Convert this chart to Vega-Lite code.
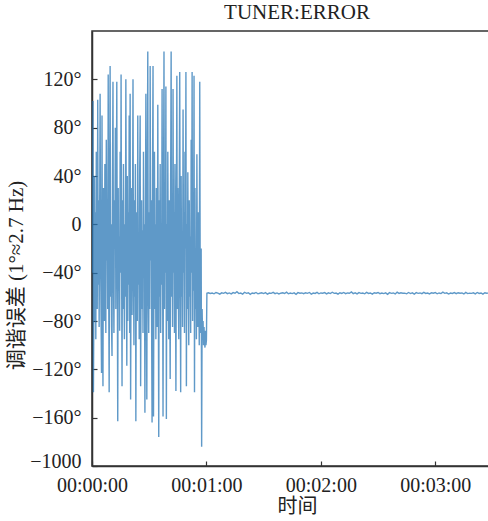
{
  "$schema": "https://vega.github.io/schema/vega-lite/v6.json",
  "autosize": {"type": "none"},
  "padding": {"left": 92, "top": 31, "right": 0, "bottom": 55},
  "width": 410,
  "height": 435,
  "background": "white",
  "config": {
    "view": {"stroke": "#333333", "strokeWidth": 1.5},
    "font": "Liberation Serif",
    "title": {"font": "Liberation Serif", "fontSize": 21, "fontWeight": "normal", "color": "#222222", "offset": 8},
    "axis": {
      "labelFont": "Liberation Serif",
      "labelFontSize": 20,
      "labelColor": "#222222",
      "titleFont": "Liberation Serif, Noto Sans CJK SC",
      "titleFontSize": 21,
      "titleFontWeight": "normal",
      "titleColor": "#222222",
      "domainColor": "#333333",
      "domainWidth": 1.5,
      "tickColor": "#333333",
      "tickSize": -5,
      "tickWidth": 1.2,
      "grid": false
    }
  },
  "title": {"text": "TUNER:ERROR"},
  "data": {"values": [
    {"t":0,"v":-40},{"t":0.25,"v":20},{"t":0.5,"v":102},{"t":0.75,"v":-139},{"t":1,"v":-60},{"t":1.25,"v":40},{"t":1.5,"v":-80},{"t":1.75,"v":10},{"t":2,"v":-95},{"t":2.25,"v":60},
    {"t":2.5,"v":-30},{"t":2.75,"v":-70},{"t":3,"v":103},{"t":3.25,"v":-50},{"t":3.5,"v":20},{"t":3.75,"v":-85},{"t":4,"v":0},{"t":4.25,"v":108},{"t":4.5,"v":-20},{"t":4.75,"v":-75},
    {"t":5,"v":-123},{"t":5.25,"v":90},{"t":5.5,"v":-60},{"t":5.75,"v":-134},{"t":6,"v":30},{"t":6.25,"v":-40},{"t":6.5,"v":-80},{"t":6.75,"v":50},{"t":7,"v":-10},{"t":7.25,"v":-90},
    {"t":7.5,"v":70},{"t":7.75,"v":-30},{"t":8,"v":10},{"t":8.25,"v":-70},{"t":8.5,"v":124},{"t":8.75,"v":-50},{"t":9,"v":-139},{"t":9.25,"v":30},{"t":9.5,"v":131},{"t":9.75,"v":-60},
    {"t":10,"v":0},{"t":10.25,"v":-85},{"t":10.5,"v":-109},{"t":10.75,"v":40},{"t":11,"v":118},{"t":11.25,"v":-40},{"t":11.5,"v":-90},{"t":11.75,"v":20},{"t":12,"v":-20},{"t":12.25,"v":80},
    {"t":12.5,"v":-70},{"t":12.75,"v":10},{"t":13,"v":118},{"t":13.25,"v":-30},{"t":13.5,"v":-163},{"t":13.75,"v":30},{"t":14,"v":-55},{"t":14.25,"v":-10},{"t":14.5,"v":-88},{"t":14.75,"v":60},
    {"t":15,"v":-40},{"t":15.25,"v":124},{"t":15.5,"v":-20},{"t":15.75,"v":-134},{"t":16,"v":20},{"t":16.25,"v":-70},{"t":16.5,"v":50},{"t":16.75,"v":-30},{"t":17,"v":-95},{"t":17.25,"v":0},
    {"t":17.5,"v":-60},{"t":17.75,"v":120},{"t":18,"v":-10},{"t":18.25,"v":-117},{"t":18.5,"v":40},{"t":18.75,"v":-80},{"t":19,"v":10},{"t":19.25,"v":-50},{"t":19.5,"v":90},{"t":19.75,"v":-90},
    {"t":20,"v":108},{"t":20.25,"v":-145},{"t":20.5,"v":-30},{"t":20.75,"v":30},{"t":21,"v":-75},{"t":21.25,"v":0},{"t":21.5,"v":120},{"t":21.75,"v":-40},{"t":22,"v":-100},{"t":22.25,"v":20},
    {"t":22.5,"v":-60},{"t":22.75,"v":50},{"t":23,"v":-163},{"t":23.25,"v":-20},{"t":23.5,"v":10},{"t":23.75,"v":-80},{"t":24,"v":90},{"t":24.25,"v":-50},{"t":24.5,"v":-10},{"t":24.75,"v":-95},
    {"t":25,"v":40},{"t":25.25,"v":90},{"t":25.5,"v":-134},{"t":25.75,"v":-30},{"t":26,"v":20},{"t":26.25,"v":-70},{"t":26.5,"v":-5},{"t":26.75,"v":-90},{"t":27,"v":60},{"t":27.25,"v":-40},
    {"t":27.5,"v":0},{"t":27.75,"v":-156},{"t":28,"v":-20},{"t":28.25,"v":108},{"t":28.5,"v":-60},{"t":28.75,"v":-145},{"t":29,"v":30},{"t":29.25,"v":143},{"t":29.5,"v":-50},{"t":29.75,"v":-90},
    {"t":30,"v":10},{"t":30.25,"v":-70},{"t":30.5,"v":131},{"t":30.75,"v":-30},{"t":31,"v":20},{"t":31.25,"v":-80},{"t":31.5,"v":-164},{"t":31.75,"v":40},{"t":32,"v":131},{"t":32.25,"v":-159},
    {"t":32.5,"v":-20},{"t":32.75,"v":60},{"t":33,"v":-70},{"t":33.25,"v":0},{"t":33.5,"v":-95},{"t":33.75,"v":30},{"t":34,"v":-40},{"t":34.25,"v":-85},{"t":34.5,"v":99},{"t":34.75,"v":-30},
    {"t":35,"v":-176},{"t":35.25,"v":20},{"t":35.5,"v":-60},{"t":35.75,"v":50},{"t":36,"v":-90},{"t":36.25,"v":-10},{"t":36.5,"v":-50},{"t":36.75,"v":112},{"t":37,"v":-20},{"t":37.25,"v":-159},
    {"t":37.5,"v":10},{"t":37.75,"v":143},{"t":38,"v":-70},{"t":38.25,"v":30},{"t":38.5,"v":-40},{"t":38.75,"v":114},{"t":39,"v":-161},{"t":39.25,"v":0},{"t":39.5,"v":-80},{"t":39.75,"v":60},
    {"t":40,"v":-30},{"t":40.25,"v":-95},{"t":40.5,"v":20},{"t":40.75,"v":-50},{"t":41,"v":-128},{"t":41.25,"v":40},{"t":41.5,"v":143},{"t":41.75,"v":-60},{"t":42,"v":-10},{"t":42.25,"v":-85},
    {"t":42.5,"v":112},{"t":42.75,"v":-40},{"t":43,"v":10},{"t":43.25,"v":-90},{"t":43.5,"v":50},{"t":43.75,"v":-20},{"t":44,"v":-138},{"t":44.25,"v":0},{"t":44.5,"v":123},{"t":44.75,"v":-70},
    {"t":45,"v":30},{"t":45.25,"v":-50},{"t":45.5,"v":-95},{"t":45.75,"v":20},{"t":46,"v":126},{"t":46.25,"v":-30},{"t":46.5,"v":-139},{"t":46.75,"v":40},{"t":47,"v":-60},{"t":47.25,"v":-10},
    {"t":47.5,"v":-85},{"t":47.75,"v":95},{"t":48,"v":-40},{"t":48.25,"v":10},{"t":48.5,"v":-90},{"t":48.75,"v":60},{"t":49,"v":-20},{"t":49.25,"v":126},{"t":49.5,"v":-134},{"t":49.75,"v":0},
    {"t":50,"v":-70},{"t":50.25,"v":43},{"t":50.5,"v":-50},{"t":50.75,"v":-100},{"t":51,"v":20},{"t":51.25,"v":-60},{"t":51.5,"v":-10},{"t":51.75,"v":-90},{"t":52,"v":70},{"t":52.25,"v":-40},
    {"t":52.5,"v":126},{"t":52.75,"v":-80},{"t":53,"v":0},{"t":53.25,"v":-55},{"t":53.5,"v":123},{"t":53.75,"v":-139},{"t":54,"v":30},{"t":54.25,"v":-70},{"t":54.5,"v":-20},{"t":54.75,"v":-95},
    {"t":55,"v":58},{"t":55.25,"v":-40},{"t":55.5,"v":-85},{"t":55.75,"v":10},{"t":56,"v":-60},{"t":56.25,"v":-100},{"t":56.5,"v":118},{"t":56.75,"v":-50},{"t":57,"v":-90},{"t":57.25,"v":-20},
    {"t":57.5,"v":-184},{"t":57.75,"v":-70},{"t":58,"v":-95},{"t":58.25,"v":-80},{"t":58.5,"v":-100},{"t":58.75,"v":-85},{"t":59,"v":-98},{"t":59.25,"v":-102},{"t":59.5,"v":-88},{"t":59.75,"v":-100},
    {"t":60,"v":-96},{"t":60.25,"v":-57},
    {"t":61,"v":-56.6},{"t":62,"v":-57.2},{"t":63,"v":-56.9},{"t":64,"v":-57.5},{"t":65,"v":-56.4},{"t":66,"v":-57.0},{"t":67,"v":-57.8},{"t":68,"v":-56.7},{"t":69,"v":-57.1},{"t":70,"v":-56.3},
    {"t":71,"v":-57.4},{"t":72,"v":-56.8},{"t":73,"v":-57.6},{"t":74,"v":-56.5},{"t":75,"v":-57.0},{"t":76,"v":-55.8},{"t":77,"v":-57.3},{"t":78,"v":-56.9},{"t":79,"v":-57.7},{"t":80,"v":-56.2},
    {"t":81,"v":-57.1},{"t":82,"v":-56.6},{"t":83,"v":-57.9},{"t":84,"v":-56.8},{"t":85,"v":-57.2},{"t":86,"v":-56.4},{"t":87,"v":-57.5},{"t":88,"v":-57.0},{"t":89,"v":-56.7},{"t":90,"v":-57.3},
    {"t":91,"v":-56.5},{"t":92,"v":-57.8},{"t":93,"v":-56.9},{"t":94,"v":-57.1},{"t":95,"v":-56.3},{"t":96,"v":-57.4},{"t":97,"v":-56.8},{"t":98,"v":-57.6},{"t":99,"v":-57.0},{"t":100,"v":-56.6},
    {"t":101,"v":-57.2},{"t":102,"v":-56.1},{"t":103,"v":-57.5},{"t":104,"v":-56.9},{"t":105,"v":-57.3},{"t":106,"v":-56.7},{"t":107,"v":-57.9},{"t":108,"v":-56.5},{"t":109,"v":-57.0},{"t":110,"v":-56.8},
    {"t":111,"v":-57.4},{"t":112,"v":-56.6},{"t":113,"v":-57.1},{"t":114,"v":-56.4},{"t":115,"v":-57.7},{"t":116,"v":-56.9},{"t":117,"v":-57.2},{"t":118,"v":-56.3},{"t":119,"v":-57.5},{"t":120,"v":-56.8},
    {"t":121,"v":-57.0},{"t":122,"v":-56.5},{"t":123,"v":-57.6},{"t":124,"v":-56.7},{"t":125,"v":-57.3},{"t":126,"v":-56.2},{"t":127,"v":-57.1},{"t":128,"v":-56.9},{"t":129,"v":-57.8},{"t":130,"v":-56.6},
    {"t":131,"v":-57.2},{"t":132,"v":-56.4},{"t":133,"v":-57.4},{"t":134,"v":-56.8},{"t":135,"v":-57.0},{"t":136,"v":-55.9},{"t":137,"v":-57.3},{"t":138,"v":-56.7},{"t":139,"v":-57.6},{"t":140,"v":-56.5},
    {"t":141,"v":-57.1},{"t":142,"v":-56.9},{"t":143,"v":-57.5},{"t":144,"v":-56.3},{"t":145,"v":-57.2},{"t":146,"v":-56.8},{"t":147,"v":-57.7},{"t":148,"v":-56.6},{"t":149,"v":-57.0},{"t":150,"v":-56.4},
    {"t":151,"v":-57.4},{"t":152,"v":-56.9},{"t":153,"v":-57.3},{"t":154,"v":-56.7},{"t":155,"v":-57.9},{"t":156,"v":-56.5},{"t":157,"v":-57.1},{"t":158,"v":-56.8},{"t":159,"v":-57.6},{"t":160,"v":-56.2},
    {"t":161,"v":-57.2},{"t":162,"v":-56.6},{"t":163,"v":-57.0},{"t":164,"v":-56.9},{"t":165,"v":-57.5},{"t":166,"v":-56.4},{"t":167,"v":-57.3},{"t":168,"v":-56.7},{"t":169,"v":-57.8},{"t":170,"v":-56.5},
    {"t":171,"v":-57.1},{"t":172,"v":-56.8},{"t":173,"v":-57.4},{"t":174,"v":-56.3},{"t":175,"v":-57.2},{"t":176,"v":-56.9},{"t":177,"v":-57.6},{"t":178,"v":-56.6},{"t":179,"v":-57.0},{"t":180,"v":-56.4},
    {"t":181,"v":-57.5},{"t":182,"v":-56.8},{"t":183,"v":-57.3},{"t":184,"v":-56.1},{"t":185,"v":-57.1},{"t":186,"v":-56.7},{"t":187,"v":-57.7},{"t":188,"v":-56.9},{"t":189,"v":-57.2},{"t":190,"v":-56.5},
    {"t":191,"v":-57.4},{"t":192,"v":-56.6},{"t":193,"v":-57.0},{"t":194,"v":-56.8},{"t":195,"v":-57.6},{"t":196,"v":-56.3},{"t":197,"v":-57.3},{"t":198,"v":-56.9},{"t":199,"v":-57.1},{"t":200,"v":-56.7},
    {"t":201,"v":-57.5},{"t":202,"v":-56.4},{"t":203,"v":-57.2},{"t":204,"v":-56.8},{"t":205,"v":-57.8},{"t":206,"v":-56.6},{"t":207,"v":-57.0},{"t":208,"v":-56.9},{"t":209,"v":-57.4},{"t":210,"v":-56.5},
    {"t":211,"v":-57.1},{"t":212,"v":-56.8},{"t":213,"v":-57.3},{"t":214,"v":-56.7},{"t":215,"v":-57.0}
  ]},
  "mark": {"type": "line", "color": "#2a77b6", "strokeWidth": 1.4, "strokeOpacity": 0.75, "clip": true, "interpolate": "linear"},
  "encoding": {
    "x": {
      "field": "t",
      "type": "quantitative",
      "scale": {"domain": [0, 215], "nice": false, "zero": false},
      "axis": {
        "title": "时间",
        "titleFontSize": 20,
        "values": [0, 60, 120, 180],
        "labelExpr": "'00:0' + (datum.value / 60) + ':00'",
        "labelPadding": 14,
        "titlePadding": 1,
        "labelFlush": false
      }
    },
    "y": {
      "field": "v",
      "type": "quantitative",
      "scale": {"domain": [-200, 160], "nice": false, "zero": false},
      "axis": {
        "title": "调谐误差 (1°≈2.7 Hz)",
        "values": [-200, -160, -120, -80, -40, 0, 40, 80, 120],
        "labelExpr": "datum.value == 0 ? '0' : (datum.value == -200 ? '−1000' : (datum.value < 0 ? '−' : '') + abs(datum.value) + '°')",
        "labelPadding": 16,
        "labelOffset": {"condition": {"test": "datum.value == -200", "value": -5}, "value": 0},
        "titlePadding": 3,
        "titleY": 244
      }
    }
  }
}
